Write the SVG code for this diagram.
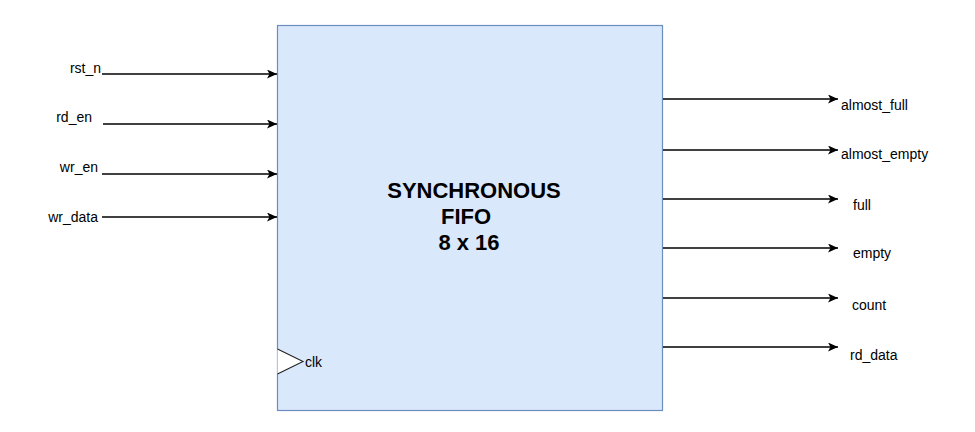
<svg xmlns="http://www.w3.org/2000/svg" width="975" height="432" viewBox="0 0 975 432">
<defs>
<style>
.lbl{font-family:"Liberation Sans",Arial,sans-serif;font-size:14px;fill:#000}
.ttl{font-family:"Liberation Sans",Arial,sans-serif;font-size:22px;font-weight:bold;fill:#000;text-anchor:middle}
.wire{stroke:#000;stroke-width:1.4;fill:none}
</style>
<marker id="arr" markerUnits="userSpaceOnUse" markerWidth="12" markerHeight="10" refX="10" refY="4.5" orient="auto">
<path d="M0,0 L10,4.5 L0,9 L2.5,4.5 z" fill="#000"/>
</marker>
</defs>
<rect width="975" height="432" fill="#fff"/>
<g id="fifo">
<rect x="277.5" y="25.5" width="385" height="385" fill="#dae8fc" stroke="#6c8ebf" stroke-width="1.2"/>
<text class="ttl" x="474" y="198">SYNCHRONOUS</text>
<text class="ttl" x="466" y="224">FIFO</text>
<text class="ttl" x="469" y="250">8 x 16</text>
<path d="M277.5,349 L303,361.5 L277.5,374" fill="#fff" stroke="#222" stroke-width="1.1"/>
<text class="lbl" x="305" y="367">clk</text>
</g>
<g id="connectors">
<line class="wire" x1="102" y1="74" x2="277" y2="74" marker-end="url(#arr)"/>
<line class="wire" x1="103" y1="124" x2="277" y2="124" marker-end="url(#arr)"/>
<line class="wire" x1="102" y1="174" x2="277" y2="174" marker-end="url(#arr)"/>
<line class="wire" x1="102" y1="217" x2="277" y2="217" marker-end="url(#arr)"/>
<line class="wire" x1="663" y1="99" x2="838" y2="99" marker-end="url(#arr)"/>
<line class="wire" x1="663" y1="150" x2="838" y2="150" marker-end="url(#arr)"/>
<line class="wire" x1="663" y1="199" x2="838" y2="199" marker-end="url(#arr)"/>
<line class="wire" x1="663" y1="248" x2="838" y2="248" marker-end="url(#arr)"/>
<line class="wire" x1="663" y1="298" x2="838" y2="298" marker-end="url(#arr)"/>
<line class="wire" x1="663" y1="347" x2="838" y2="347" marker-end="url(#arr)"/>
</g>
<g id="in_rst_n"><text class="lbl" x="101" y="73" text-anchor="end">rst_n</text></g>
<g id="in_rd_en"><text class="lbl" x="92" y="122" text-anchor="end">rd_en</text></g>
<g id="in_wr_en"><text class="lbl" x="98" y="172" text-anchor="end">wr_en</text></g>
<g id="in_wr_data"><text class="lbl" x="98" y="222" text-anchor="end">wr_data</text></g>
<g id="out_almost_full"><text class="lbl" x="841" y="110">almost_full</text></g>
<g id="out_almost_empty"><text class="lbl" x="841" y="159">almost_empty</text></g>
<g id="out_full"><text class="lbl" x="853" y="210">full</text></g>
<g id="out_empty"><text class="lbl" x="853" y="258">empty</text></g>
<g id="out_count"><text class="lbl" x="852" y="310">count</text></g>
<g id="out_rd_data"><text class="lbl" x="850" y="360">rd_data</text></g>
</svg>
